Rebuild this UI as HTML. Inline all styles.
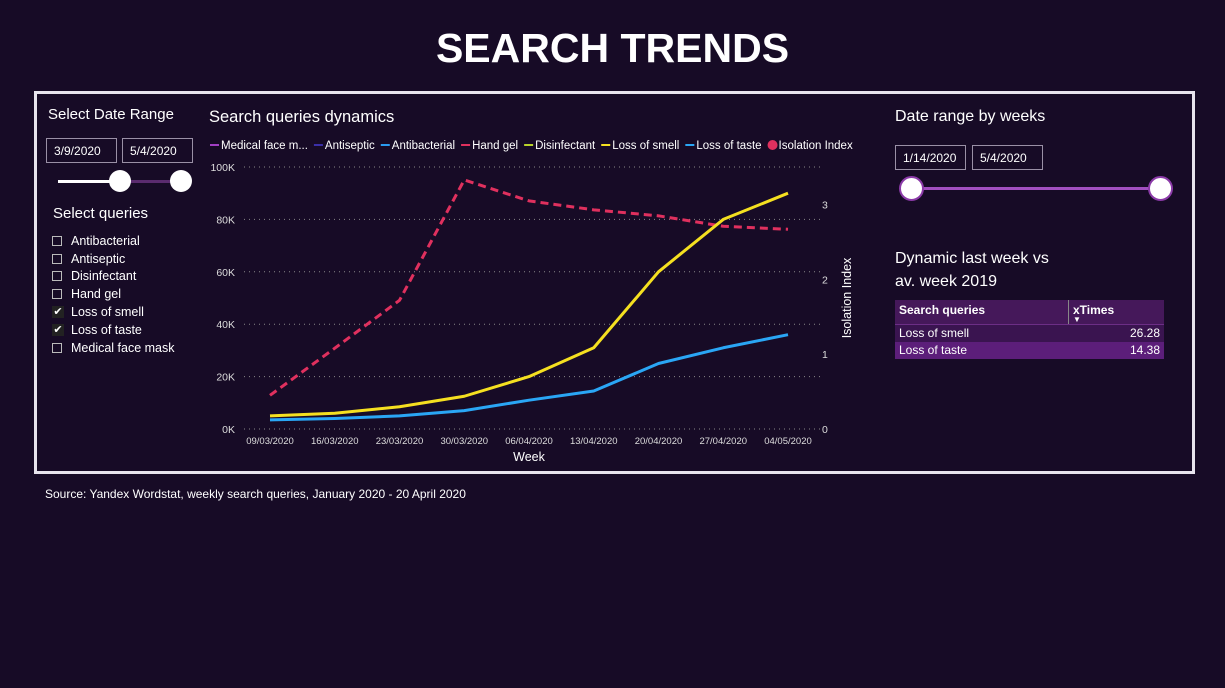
<!DOCTYPE html>
<html><head><meta charset="utf-8"><style>
body{margin:0;width:1225px;height:688px;background:#170b26;font-family:"Liberation Sans",sans-serif;color:#fff;position:relative;overflow:hidden}
.abs{position:absolute}
.box{border:1px solid #9a90a6;font-size:12px;padding:0;box-sizing:border-box;line-height:24px;padding-left:7px}
.cb{display:flex;align-items:center;font-size:12.5px;height:17.8px}
.cb span.b{width:10px;height:10px;border:1.5px solid #bbb;margin-right:9px;box-sizing:border-box;display:inline-block;text-align:center;font-size:11px;line-height:8px}
.cb span.c{width:12px;height:12px;background:#222;margin-right:7px;display:inline-block;text-align:center;font-size:11px;line-height:12px}
</style></head><body>
<div class="abs" style="left:0;width:1225px;top:25px;text-align:center;font-size:41px;font-weight:bold">SEARCH TRENDS</div>
<div class="abs" style="left:34px;top:91px;width:1155px;height:377px;border:3px solid #e8e4ee;box-sizing:content-box"></div>
<div class="abs" style="left:48px;top:106px;font-size:15px">Select Date Range</div>
<div class="abs box" style="left:46px;top:138px;width:71px;height:25px">3/9/2020</div>
<div class="abs box" style="left:122px;top:138px;width:71px;height:25px">5/4/2020</div>
<div class="abs" style="left:58px;top:180px;width:62px;height:3px;background:#fff"></div>
<div class="abs" style="left:120px;top:180px;width:60px;height:3px;background:#5a2b6e"></div>
<div class="abs" style="left:109px;top:170px;width:22px;height:22px;border-radius:50%;background:#fff"></div>
<div class="abs" style="left:170px;top:170px;width:22px;height:22px;border-radius:50%;background:#fff"></div>
<div class="abs" style="left:53px;top:205px;font-size:15px">Select queries</div>
<div class="abs" style="left:52px;top:232px">
<div class="cb"><span class="b"></span>Antibacterial</div>
<div class="cb"><span class="b"></span>Antiseptic</div>
<div class="cb"><span class="b"></span>Disinfectant</div>
<div class="cb"><span class="b"></span>Hand gel</div>
<div class="cb"><span class="c">✔</span>Loss of smell</div>
<div class="cb"><span class="c">✔</span>Loss of taste</div>
<div class="cb"><span class="b"></span>Medical face mask</div>
</div>
<svg class="abs" style="left:0;top:0" width="1225" height="688" id="chart">
<text x="209" y="122" font-size="16.5" fill="#fff">Search queries dynamics</text>
<g id="legend" font-size="11.5" fill="#fff"></g>
<g id="grid"></g><g id="axes" font-size="10.5" fill="#ddd"></g><g id="marks"></g>
<text x="529" y="461" font-size="12.5" fill="#fff" text-anchor="middle">Week</text>
<text transform="translate(851,298) rotate(-90)" font-size="12.5" fill="#fff" text-anchor="middle">Isolation Index</text>
</svg>
<div class="abs" style="left:895px;top:108px;font-size:16px">Date range by weeks</div>
<div class="abs box" style="left:895px;top:145px;width:71px;height:25px">1/14/2020</div>
<div class="abs box" style="left:972px;top:145px;width:71px;height:25px">5/4/2020</div>
<div class="abs" style="left:910px;top:187px;width:250px;height:3px;background:#a24fc0"></div>
<div class="abs" style="left:899px;top:176px;width:21px;height:21px;border-radius:50%;background:#fff;border:2px solid #8b3aa8"></div>
<div class="abs" style="left:1148px;top:176px;width:21px;height:21px;border-radius:50%;background:#fff;border:2px solid #8b3aa8"></div>
<div class="abs" style="left:895px;top:247px;font-size:16px;line-height:23px">Dynamic last week vs<br>av. week 2019</div>
<div class="abs" style="left:895px;top:300px;width:269px;font-size:12px">
<div style="display:flex;height:24px;background:#45185a;border-bottom:1px solid #6c2e86"><div style="width:165px;padding:3px 4px;font-weight:bold;border-right:1px solid #888">Search queries</div><div style="padding:3px 4px;font-weight:bold">xTimes<br><span style="font-size:8px;position:relative;top:-6px">▼</span></div></div>
<div style="display:flex;justify-content:space-between;height:17px;line-height:17px;background:#3a1450;padding:0 4px"><span>Loss of smell</span><span>26.28</span></div>
<div style="display:flex;justify-content:space-between;height:17px;line-height:17px;background:#5c1e7a;padding:0 4px"><span>Loss of taste</span><span>14.38</span></div>
</div>
<div class="abs" style="left:45px;top:487px;font-size:12px">Source: Yandex Wordstat, weekly search queries, January 2020 - 20 April 2020</div>
<script>
const weeks=["09/03/2020","16/03/2020","23/03/2020","30/03/2020","06/04/2020","13/04/2020","20/04/2020","27/04/2020","04/05/2020"];
const lossOfSmell=[5000,6000,8500,12500,20000,31000,60000,80000,90000];
const lossOfTaste=[3500,4000,5000,7000,11000,14500,25000,31000,36000];
const isolationIndex=[0.45,1.08,1.72,3.33,3.05,2.93,2.85,2.71,2.67];
const leftTicks=[0,20000,40000,60000,80000,100000];
const leftTickLabels=["0K","20K","40K","60K","80K","100K"];
const rightTicks=[0,1,2,3];
const legendItems=[["Medical face m...","#a23fc4"],["Antiseptic","#3b2fa8"],["Antibacterial","#2a9bf0"],["Hand gel","#e0305e"],["Disinfectant","#b9d22a"],["Loss of smell","#f5e020"],["Loss of taste","#2aa6f5"],["Isolation Index","#e0305e"]];
const NS="http://www.w3.org/2000/svg";
const x=i=>270+i*(788-270)/(weeks.length-1);
const y=v=>429-v*(429-167)/100000;
const yr=v=>429-v*74.8;
function mk(t,a,p){const e=document.createElementNS(NS,t);for(const k in a)e.setAttribute(k,a[k]);p.appendChild(e);return e;}
const grid=document.getElementById('grid'),axes=document.getElementById('axes'),marks=document.getElementById('marks'),leg=document.getElementById('legend');
leftTicks.forEach((t,i)=>{
 const l=mk('line',{x1:244,x2:820,y1:y(t),y2:y(t),stroke:'#888','stroke-dasharray':'1 4'},grid);
 
 
 const tx=mk('text',{x:235,y:y(t)+4,'text-anchor':'end'},axes);tx.textContent=leftTickLabels[i];
 
 
});
rightTicks.forEach(t=>{
 const tx=mk('text',{x:822,y:yr(t)+4},axes);tx.textContent=t;
 
 
});
weeks.forEach((w,i)=>{
 const tx=mk('text',{x:x(i),y:444,'text-anchor':'middle','font-size':'9.5'},axes);tx.textContent=w;
 
 
});
function line(vals,fn,col,dash,name){
 const p=mk('polyline',{points:vals.map((v,i)=>x(i)+','+fn(v)).join(' '),fill:'none',stroke:col,'stroke-width':3,'stroke-dasharray':dash||'none','stroke-linejoin':'round'},marks);
 
 
}
line(isolationIndex,yr,'#e0305e','8 5','isolation-index-line');
line(lossOfTaste,y,'#2aa6f5','','loss-of-taste-line');
line(lossOfSmell,y,'#f5e020','','loss-of-smell-line');
let lx=210;
legendItems.forEach((it,i)=>{
 const g=mk('g',{},leg);
 
 
 if(i===7)mk('circle',{cx:lx+5,cy:145,r:5,fill:it[1]},g);else mk('line',{x1:lx,x2:lx+9,y1:145,y2:145,stroke:it[1],'stroke-width':2},g);
 const t=mk('text',{x:lx+(i===7?11:11),y:149},g);t.textContent=it[0];
 lx+=11+t.getComputedTextLength()+6;
});
</script>
</body></html>
